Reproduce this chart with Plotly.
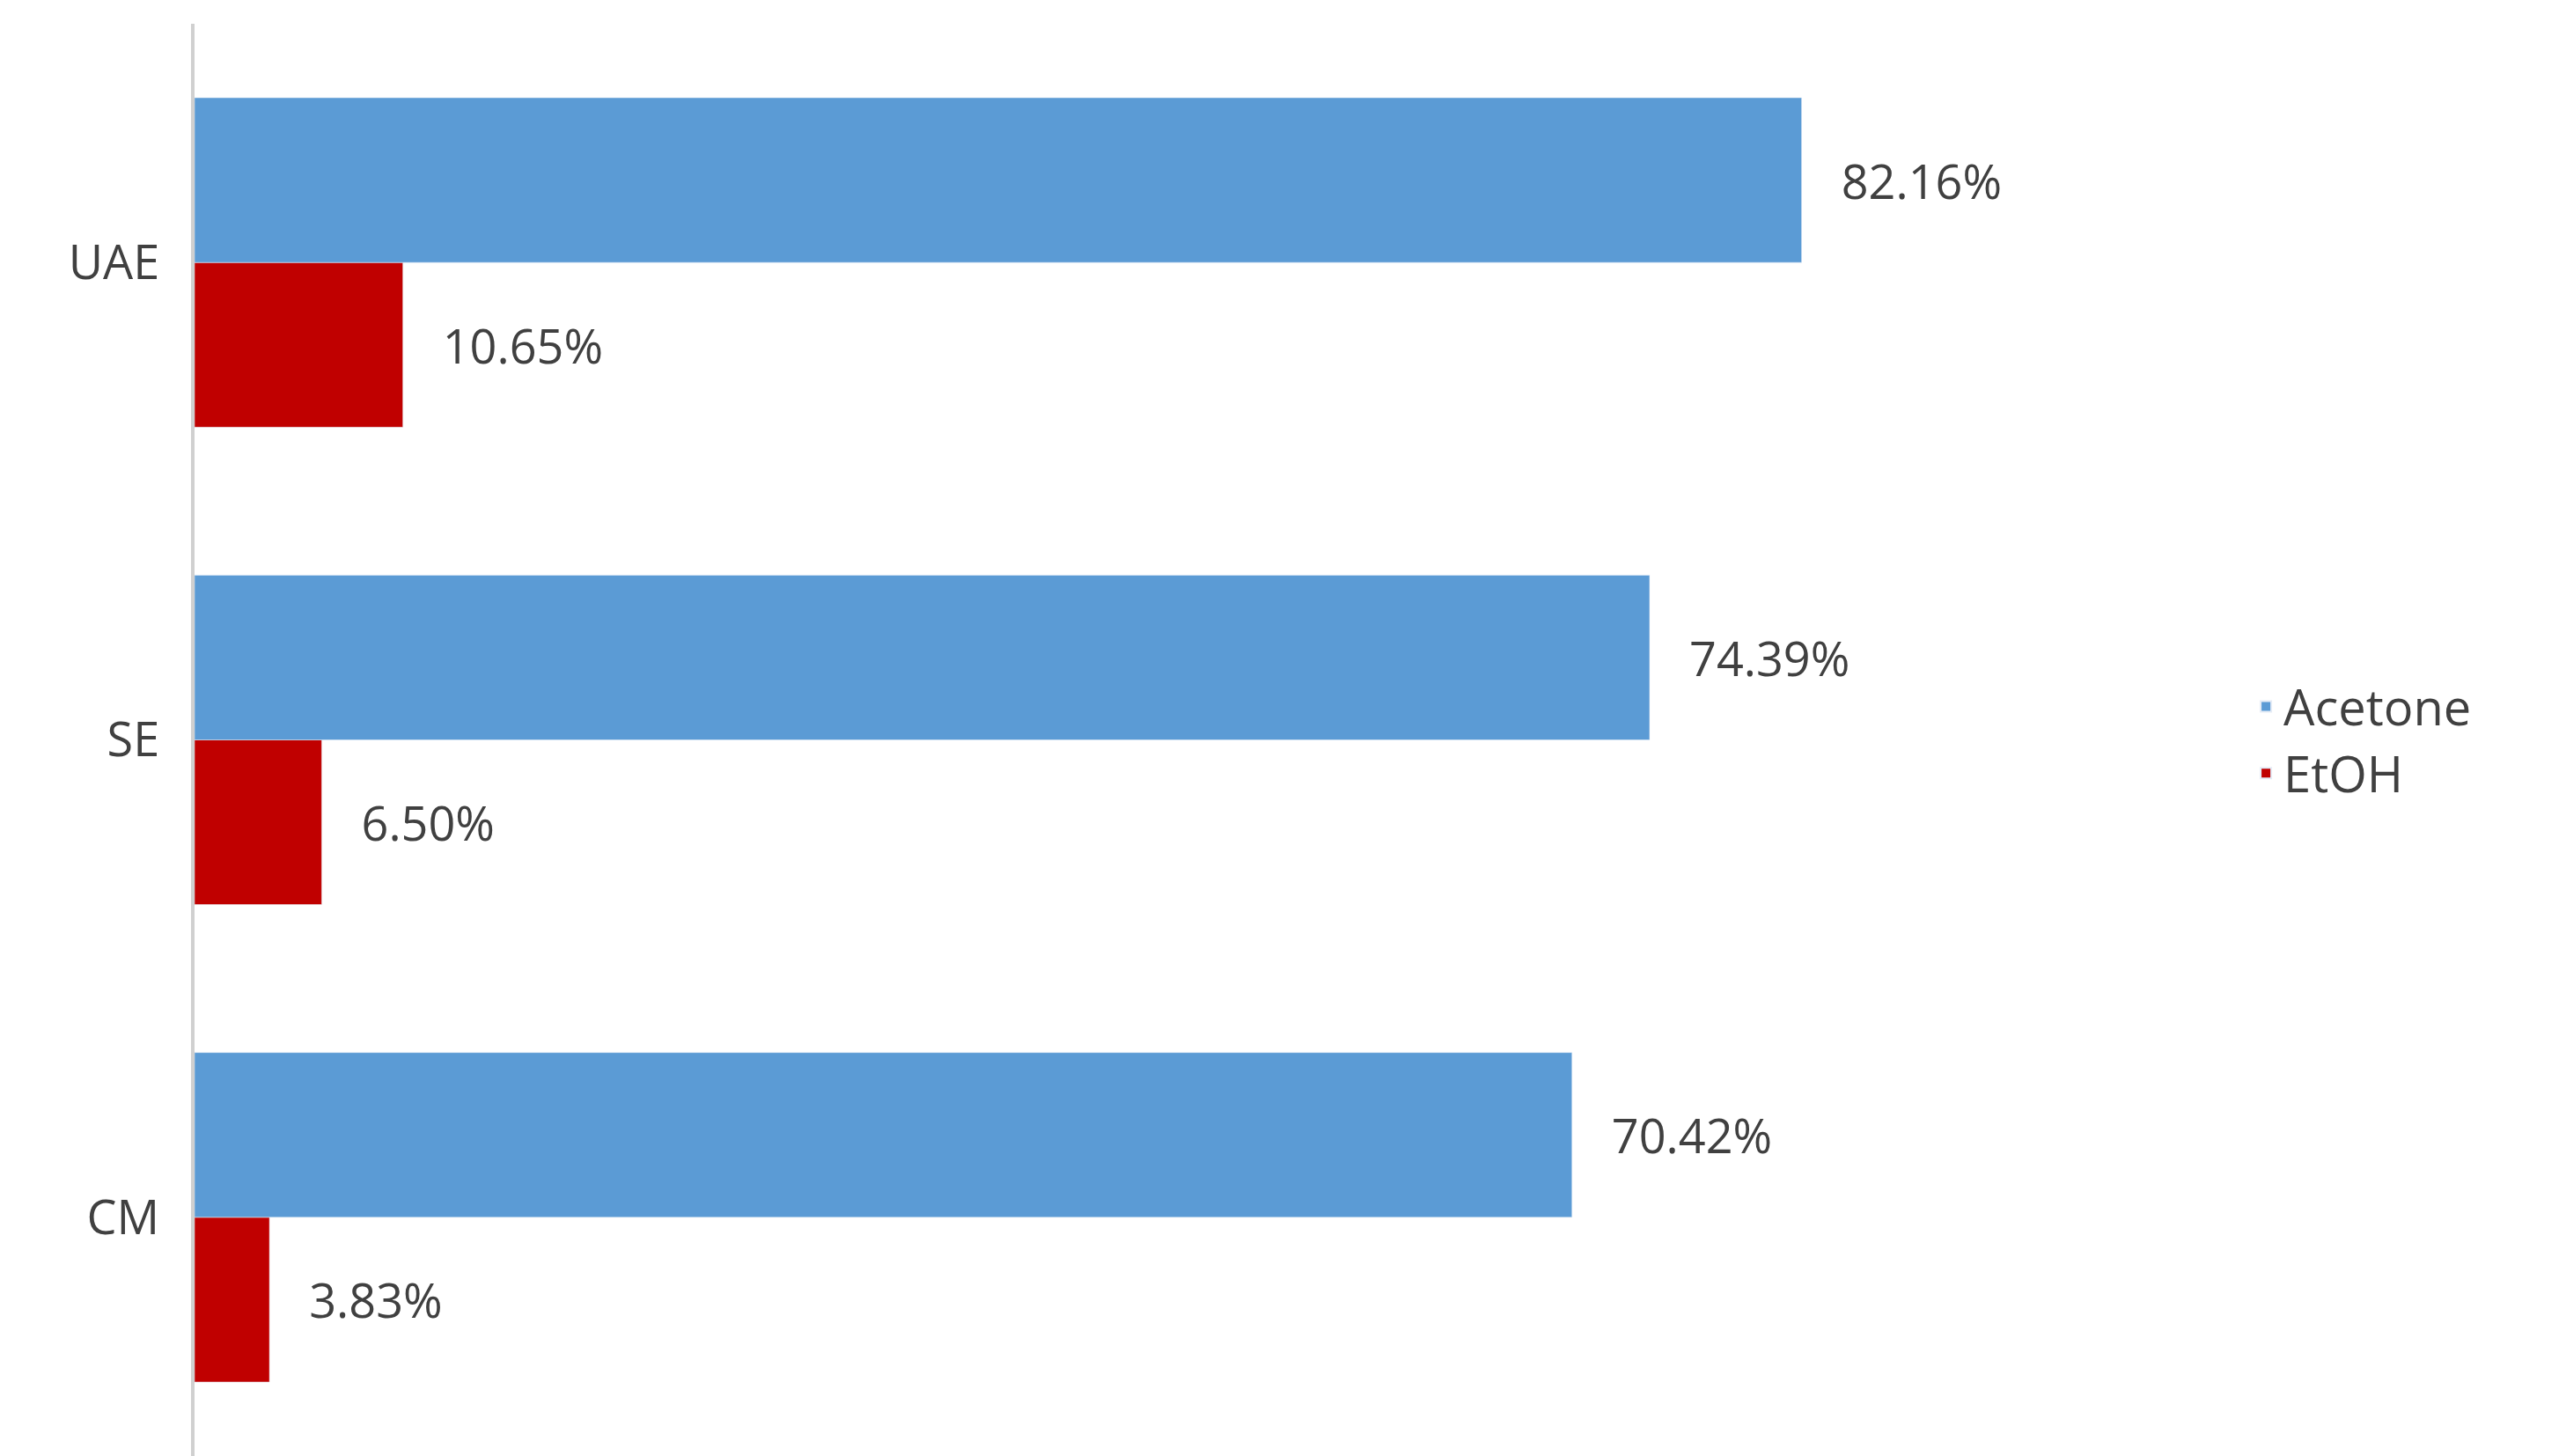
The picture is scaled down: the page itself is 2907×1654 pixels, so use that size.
import plotly.graph_objects as go

categories = ["CM", "SE", "UAE"]
acetone = [70.42, 74.39, 82.16]
etoh = [3.83, 6.50, 10.65]

font = "Open Sans"

fig = go.Figure()
fig.add_trace(go.Bar(
    y=categories, x=etoh, orientation="h", name="EtOH",
    marker=dict(color="#C00000"),
    text=["   %.2f%%" % v for v in etoh], textposition="outside",
    textfont=dict(size=54, color="#404040", family=font), cliponaxis=False,
))
fig.add_trace(go.Bar(
    y=categories, x=acetone, orientation="h", name="Acetone",
    marker=dict(color="#5B9BD5"),
    text=["   %.2f%%" % v for v in acetone], textposition="outside",
    textfont=dict(size=54, color="#404040", family=font), cliponaxis=False,
))

fig.update_layout(
    width=2907, height=1654,
    paper_bgcolor="white", plot_bgcolor="white",
    barmode="group", bargap=0.31, bargroupgap=0,
    margin=dict(l=213, r=472, t=19, b=8),
    font=dict(family=font, size=54, color="#404040"),
    legend=dict(traceorder="reversed", x=1.05, y=0.5, yanchor="middle",
                font=dict(size=56), itemsizing="constant"),
    xaxis=dict(range=[0, 100], visible=False, showgrid=False),
    yaxis=dict(showgrid=False, showline=True, linecolor="#D0D0D0", linewidth=4,
               ticks="", ticklen=0, ticklabelstandoff=25,
               tickfont=dict(size=54, color="#404040")),
)

fig.write_html("out.html")
